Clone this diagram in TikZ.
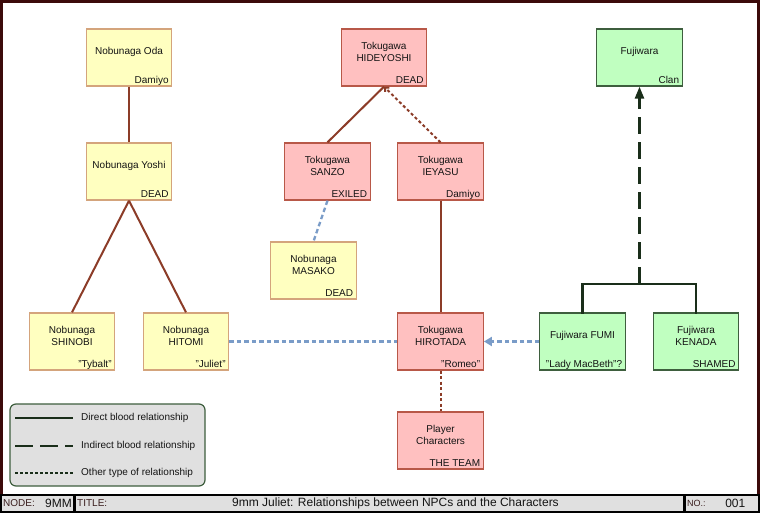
\documentclass[tikz,border=0pt]{standalone}
\usepackage{fontspec}
\setmainfont{Liberation Sans}
\usetikzlibrary{arrows.meta,calc}
\definecolor{yfill}{HTML}{FFFFC0}
\definecolor{ydraw}{HTML}{D4A47C}
\definecolor{pfill}{HTML}{FFC0C0}
\definecolor{pdraw}{HTML}{B85848}
\definecolor{gfill}{HTML}{C0FFC0}
\definecolor{gdraw}{HTML}{3E5E3E}
\definecolor{brownline}{HTML}{8C3C28}
\definecolor{blueline}{HTML}{7A9CC8}
\definecolor{greenline}{HTML}{1A2E1A}
\definecolor{framecol}{HTML}{3C0A0A}
\definecolor{barfill}{HTML}{E0E0E0}
\definecolor{txtcol}{HTML}{141414}
\definecolor{lblcol}{HTML}{3A1E1E}
\newcommand{\npcbox}[6]{%
  \node[#2] (#1) at (#3,#4+28.5) {};
  \node[maintxt] (#1-m) at (#3,#4+23) {#5};
  \node[subtxt] (#1-s) at (#3+39.8,#4+54.5) {#6};
}
\begin{document}
\begin{tikzpicture}[x=1pt,y=-1pt,
  npc/.style={rectangle, minimum width=85.5pt, minimum height=57pt, inner sep=0pt, line width=1.3pt},
  ybox/.style={npc, fill=yfill, draw=ydraw},
  pbox/.style={npc, fill=pfill, draw=pdraw},
  gbox/.style={npc, fill=gfill, draw=gdraw},
  maintxt/.style={align=center, inner sep=0pt, text=txtcol, font=\fontsize{10}{12}\selectfont},
  subtxt/.style={anchor=base east, inner sep=0pt, text=txtcol, font=\fontsize{10}{12}\selectfont},
  blood/.style={draw=brownline, line width=2pt},
  other/.style={draw=brownline, line width=2pt, dash pattern=on 3pt off 2.5pt},
  bluerel/.style={draw=blueline, line width=2.3pt, dash pattern=on 4.5pt off 3pt},
  fam/.style={draw=greenline, line width=2.5pt},
  legtxt/.style={anchor=west, inner sep=0pt, text=txtcol, font=\fontsize{10}{12}\selectfont},
  bartxt/.style={inner sep=0pt, text=txtcol},
]
\useasboundingbox (0,0) rectangle (760,513);
\fill[white] (0,0) rectangle (760,513);
% main frame
\draw[framecol, line width=3pt] (1.5,1.5) rectangle (758.5,495);

% nodes
\npcbox{oda}{ybox}{129}{29}{Nobunaga Oda}{Damiyo}
\npcbox{yoshi}{ybox}{129}{143}{Nobunaga Yoshi}{DEAD}
\npcbox{hide}{pbox}{384}{29}{Tokugawa\\HIDEYOSHI}{DEAD}
\npcbox{sanzo}{pbox}{327.5}{143}{Tokugawa\\SANZO}{EXILED}
\npcbox{ieyasu}{pbox}{440.5}{143}{Tokugawa\\IEYASU}{Damiyo}
\npcbox{masako}{ybox}{313.5}{242}{Nobunaga\\MASAKO}{DEAD}
\npcbox{clan}{gbox}{639.5}{29}{Fujiwara}{Clan}
\npcbox{shinobi}{ybox}{72}{313}{Nobunaga\\SHINOBI}{"Tybalt"}
\npcbox{hitomi}{ybox}{186}{313}{Nobunaga\\HITOMI}{"Juliet"}
\npcbox{hirotada}{pbox}{440.5}{313}{Tokugawa\\HIROTADA}{"Romeo"}
\npcbox{fumi}{gbox}{582.5}{313}{Fujiwara FUMI}{"Lady MacBeth"?}
\npcbox{kenada}{gbox}{696}{313}{Fujiwara\\KENADA}{SHAMED}
\npcbox{pc}{pbox}{440.5}{412}{Player\\Characters}{THE TEAM}

% connectors
\draw[blood] (oda.south) -- (yoshi.north);
\draw[blood] (yoshi.south) -- (shinobi.north);
\draw[blood] (yoshi.south) -- (hitomi.north);
\draw[blood] (hide.south) -- (sanzo.north);
\draw[other, -{Straight Barb[length=3pt,width=6pt]}] (ieyasu.north) -- (hide.south);
\draw[blood] (ieyasu.south) -- (hirotada.north);
\draw[bluerel] (sanzo.south) -- (masako.north);
\draw[bluerel] (hitomi.east) -- (hirotada.west);
\draw[bluerel, -{Triangle[length=8pt,width=9pt]}] (fumi.west) -- (hirotada.east);
\draw[other] (hirotada.south) -- (pc.north);
\coordinate (join) at (639.5,284);
\draw[fam, line cap=rect] (fumi.north) |- (join) -| (kenada.north);
\draw[fam, dash pattern=on 17pt off 8pt, -{Triangle[length=12pt,width=9pt]}] (join) -- (clan.south);

% legend
\node[draw=gdraw, fill=barfill, line width=1.2pt, rounded corners=6pt, minimum width=195pt, minimum height=82pt] (legend) at (107.5,445) {};
\coordinate (l1a) at (15,418); \coordinate (l1b) at (73,418);
\coordinate (l2a) at (15,446); \coordinate (l2b) at (73,446);
\coordinate (l3a) at (15,473); \coordinate (l3b) at (73,473);
\draw[fam, line width=2pt] (l1a) -- (l1b);
\draw[fam, line width=2pt, dash pattern=on 18pt off 7pt] (l2a) -- (l2b);
\draw[fam, line width=2pt, dash pattern=on 3pt off 2pt] (l3a) -- (l3b);
\node[legtxt] (t1) at (81,418) {Direct blood relationship};
\node[legtxt] (t2) at (81,446) {Indirect blood relationship};
\node[legtxt] (t3) at (81,473) {Other type of relationship};

% title bar
\fill[barfill] (0,495) rectangle (760,513);
\draw[black, line width=2pt] (0,495) -- (760,495);
\draw[black, line width=2.5pt] (0,511.8) -- (760,511.8);
\draw[black, line width=2pt] (1,495) -- (1,513);
\draw[black, line width=2pt] (759,495) -- (759,513);
\draw[black, line width=2.5pt] (74.5,495) -- (74.5,513);
\draw[black, line width=2.5pt] (684.5,495) -- (684.5,513);
\node[bartxt, anchor=west, text=lblcol, font=\fontsize{10}{12}\selectfont] (nodelbl) at (3,503) {NODE:};
\node[bartxt, anchor=east, font=\fontsize{12}{14}\selectfont] (nodeval) at (72,503) {9MM};
\node[bartxt, anchor=west, text=lblcol, font=\fontsize{10}{12}\selectfont] (titlelbl) at (77,503) {TITLE:};
\node[bartxt, font=\fontsize{12}{14}\selectfont] (titleval) at (395.5,503) {9mm Juliet: Relationships between NPCs and the Characters};
\node[bartxt, anchor=west, text=lblcol, font=\fontsize{9}{11}\selectfont] (nolbl) at (687,503) {NO.:};
\node[bartxt, anchor=east, font=\fontsize{12}{14}\selectfont] (noval) at (745.5,503) {001};
\end{tikzpicture}
\end{document}
